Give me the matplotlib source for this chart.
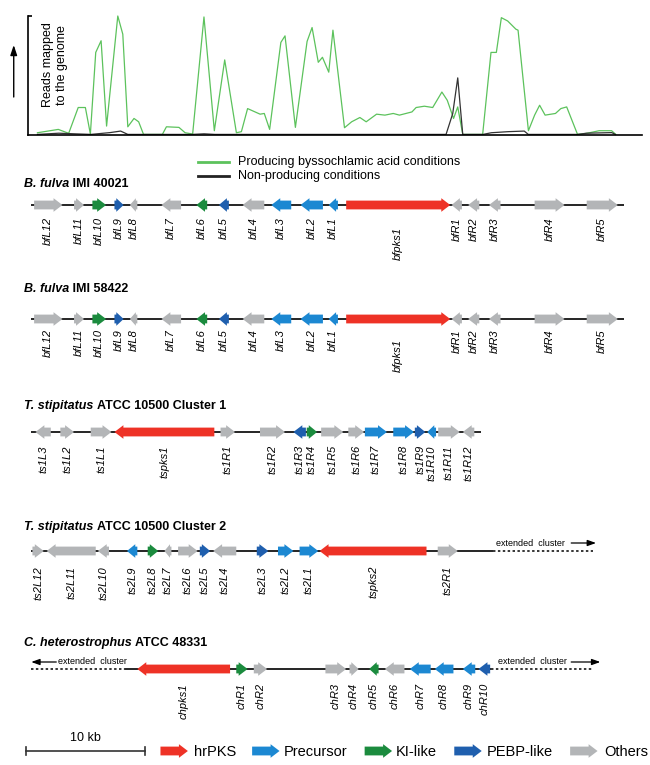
import matplotlib
matplotlib.use('Agg')
import matplotlib.pyplot as plt
from matplotlib.patches import Polygon

plt.rcParams['font.family'] = ['Liberation Sans', 'DejaVu Sans']

# ---- read coverage over the B. fulva cluster (position in kb, reads in % of max)
green_pos = [0.52, 2.27, 3.14, 3.94, 4.54, 4.96, 5.41, 5.86, 6.32, 7.26, 7.68, 8.10,
             8.62, 9.01, 9.42, 11.00, 11.34, 12.39, 12.91, 13.54, 14.49, 15.36, 16.23, 17.21,
             17.63, 18.15, 19.20, 19.55, 20.00, 20.94, 21.29, 22.16, 23.14, 23.56, 24.08, 24.43,
             24.96, 25.31, 26.28, 26.88, 27.57, 28.10, 28.97, 29.67, 30.37, 30.89, 31.94, 32.29,
             32.98, 33.68, 34.45, 34.90, 35.43, 35.78, 36.20, 37.87, 38.57, 39.02, 39.44, 39.97,
             40.66, 40.84, 41.71, 42.23, 42.65, 43.11, 43.98, 44.43, 44.92, 45.83, 46.60, 47.64,
             48.69, 49.04]
green_reads = [1.9, 4.7, 1.4, 23.1, 23.1, 0.8, 69.4, 79.2, 7.5, 100, 84.7, 6.9,
               13.9, 11.1, 0.5, 0.5, 6.9, 6.4, 1.9, 0.8, 99.2, 3.6, 63.1, 1.9,
               2.8, 22.2, 17.5, 18.1, 4.7, 77.8, 83.3, 6.4, 78.6, 90.3, 61.1, 65.3,
               52.8, 88.1, 6.1, 11.1, 14.7, 11.1, 17.5, 16.7, 18.1, 16.7, 19.4, 23.1,
               24.2, 23.1, 36.1, 29.2, 13.9, 23.6, 0.5, 0.5, 69.4, 69.4, 98.6, 95.8,
               88.9, 88.1, 3.6, 16.7, 25.0, 16.7, 18.1, 22.2, 23.6, 0.5, 1.4, 3.6,
               3.6, 0.5]
black_pos = [0.52, 2.3, 5.0, 6.6, 7.5, 8.1, 13.5, 14.5, 15.4, 34.8, 35.36, 35.78,
             36.2, 37.9, 38.6, 40.0, 41.36, 41.7, 45.8, 46.6, 48.7, 49.0]
black_reads = [0.5, 1.5, 0.5, 2.0, 3.3, 0.5, 0.5, 1.0, 0.5, 0.5, 18.0, 48.0,
               0.5, 0.5, 1.9, 2.8, 3.3, 0.5, 0.5, 1.5, 2.0, 0.5]

# ---- gene clusters: name, start kb, end kb, strand, class
bf_names = ['bfL12', 'bfL11', 'bfL10', 'bfL9', 'bfL8', 'bfL7', 'bfL6', 'bfL5', 'bfL4',
            'bfL3', 'bfL2', 'bfL1', 'bfpks1', 'bfR1', 'bfR2', 'bfR3', 'bfR4', 'bfR5']
bf_start = [0.24, 3.59, 5.13, 6.98, 8.27, 10.92, 13.85, 15.74, 17.73,
            20.14, 22.59, 24.95, 26.42, 35.26, 36.65, 38.40, 42.23, 46.60]
bf_end = [2.62, 4.43, 6.28, 7.75, 8.90, 12.57, 14.76, 16.58, 19.55,
          21.81, 24.47, 25.73, 35.15, 36.13, 37.59, 39.37, 44.74, 49.21]
bf_strand = [1, 1, 1, 1, -1, -1, -1, -1, -1, -1, -1, -1, 1, -1, -1, -1, 1, 1]
bf_class = ['oth', 'oth', 'ki', 'pebp', 'oth', 'oth', 'ki', 'pebp', 'oth',
            'pre', 'pre', 'pre', 'pks', 'oth', 'oth', 'oth', 'oth', 'oth']

ts1_names = ['ts1L3', 'ts1L2', 'ts1L1', 'tspks1', 'ts1R1', 'ts1R2', 'ts1R3', 'ts1R4',
             'ts1R5', 'ts1R6', 'ts1R7', 'ts1R8', 'ts1R9', 'ts1R10', 'ts1R11', 'ts1R12']
ts1_start = [0.35, 2.44, 4.99, 6.98, 15.88, 19.19, 21.99, 23.11,
             24.32, 26.60, 27.99, 30.37, 32.18, 33.22, 34.14, 36.20]
ts1_end = [1.64, 3.59, 6.73, 15.36, 17.10, 21.29, 23.04, 23.98,
           26.18, 27.93, 29.84, 32.11, 33.06, 33.96, 35.95, 37.17]
ts1_strand = [-1, 1, 1, -1, 1, 1, -1, 1, 1, 1, 1, 1, 1, -1, 1, -1]
ts1_class = ['oth', 'oth', 'oth', 'pks', 'oth', 'oth', 'pebp', 'ki',
             'oth', 'oth', 'pre', 'pre', 'pebp', 'pre', 'oth', 'oth']

ts2_names = ['ts2L12', 'ts2L11', 'ts2L10', 'ts2L9', 'ts2L8', 'ts2L7', 'ts2L6', 'ts2L5',
             'ts2L4', 'ts2L3', 'ts2L2', 'ts2L1', 'tspks2', 'ts2R1']
ts2_start = [0.10, 1.29, 5.58, 8.03, 9.77, 11.17, 12.32, 14.14,
             15.26, 18.92, 20.70, 22.51, 24.19, 34.10]
ts2_end = [1.05, 5.41, 6.52, 8.90, 10.65, 11.76, 13.96, 15.01,
           17.20, 19.89, 21.99, 24.08, 33.16, 35.78]
ts2_strand = [1, -1, -1, -1, 1, -1, 1, 1, -1, 1, 1, 1, -1, 1]
ts2_class = ['oth', 'oth', 'oth', 'pre', 'ki', 'oth', 'oth', 'pebp',
             'oth', 'pebp', 'pre', 'pre', 'pks', 'oth']

ch_names = ['chpks1', 'chR1', 'chR2', 'chR3', 'chR4', 'chR5', 'chR6', 'chR7',
            'chR8', 'chR9', 'chR10']
ch_start = [8.90, 17.20, 18.67, 24.68, 26.70, 28.35, 29.66, 31.76, 33.85, 36.20, 37.52]
ch_end = [16.68, 18.15, 19.79, 26.42, 27.47, 29.14, 31.31, 33.51, 35.42, 37.25, 38.50]
ch_strand = [-1, 1, 1, 1, 1, -1, -1, -1, -1, -1, -1]
ch_class = ['pks', 'ki', 'oth', 'oth', 'oth', 'ki', 'oth', 'pre', 'pre', 'pre', 'pebp']

# backbone (solid) and extended (dotted) stretches, kb
bf_solid, bf_dotted = [(0, 49.74)], []
ts1_solid, ts1_dotted = [(0, 37.70)], []
ts2_solid, ts2_dotted = [(0, 38.74)], [(38.74, 47.12)]
ch_solid, ch_dotted = [(7.85, 38.53)], [(0, 7.85), (38.53, 47.12)]

legend_classes = ['pks', 'pre', 'ki', 'pebp', 'oth']
legend_labels = ['hrPKS', 'Precursor', 'KI-like', 'PEBP-like', 'Others']
scale_kb = 10

colors = {'pks': '#ee3226', 'pre': '#1c88d2', 'ki': '#1b8b3e',
          'pebp': '#1f5fae', 'oth': '#b3b5b7'}

# ---- figure: one canvas axes, x in kb, y in pixel rows
fig = plt.figure(figsize=(6.5, 7.65), dpi=100)
ax = fig.add_axes([0, 0, 1, 1])
ax.set_xlim(-2.622, 51.91)
ax.set_ylim(765, 0)
ax.axis('off')

HEAD = 0.75    # kb
BODY = 4.4     # half height, px
HALF = 6.8     # half height of the head, px


def gene(x0, x1, strand, y, color):
    head = min(HEAD, 0.8 * (x1 - x0))
    if strand > 0:
        tail, tip, base = x0, x1, x1 - head
    else:
        tail, tip, base = x1, x0, x0 + head
    pts = [(tail, y - BODY), (base, y - BODY), (base, y - HALF), (tip, y),
           (base, y + HALF), (base, y + BODY), (tail, y + BODY)]
    ax.add_patch(Polygon(pts, closed=True, facecolor=color, edgecolor='none', zorder=3))


renderer = fig.canvas.get_renderer()


def title(y, italic_part, rest):
    t = ax.text(-0.594, y, italic_part, fontsize=9, fontweight='bold', style='italic',
                va='baseline', ha='left')
    bb = t.get_window_extent(renderer=renderer)
    xr = ax.transData.inverted().transform((bb.x1, bb.y0))[0]
    ax.text(xr, y, rest, fontsize=9, fontweight='bold', va='baseline', ha='left')


def cluster(names, starts, ends, strands, classes, solid, dotted, y, label_top,
            drop=None):
    for a, b in solid:
        ax.plot([a, b], [y, y], color='black', lw=1.2, zorder=2, solid_capstyle='butt')
    for a, b in dotted:
        ax.plot([a, b], [y, y], color='black', lw=1.1, zorder=2,
                linestyle=(0, (1.6, 1.6)))
    for n, s, e, d, c in zip(names, starts, ends, strands, classes):
        gene(s, e, d, y, colors[c])
        extra = (drop or {}).get(n, 0)
        ax.text((s + e) / 2, label_top + extra, n, rotation=90, ha='center', va='top',
                fontsize=8, style='italic')


def extended(x_text, x_arrow0, x_arrow1, y, left=False):
    ax.text(x_text, y, 'extended  cluster', fontsize=6.5, ha='left', va='center')
    a, b = (x_arrow1, x_arrow0) if left else (x_arrow0, x_arrow1)
    ax.annotate('', xy=(b, y), xytext=(a, y),
                arrowprops=dict(arrowstyle='-|>,head_length=0.5,head_width=0.18',
                                color='black', lw=0.9, shrinkA=0, shrinkB=0))


# ---- coverage panel
x0, x1 = ax.get_xlim()
cov_left, cov_right = -0.245, 51.2
fx = lambda v: (v - x0) / (x1 - x0)
top = fig.add_axes([fx(cov_left), 1 - 135 / 765, fx(cov_right) - fx(cov_left), 119 / 765])
top.patch.set_alpha(0)
top.set_xlim(cov_left, cov_right)
top.set_ylim(0, 100)
top.plot(green_pos, green_reads, color='#5cc25c', lw=0.9, clip_on=False)
top.plot(black_pos, black_reads, color='#333333', lw=0.9, clip_on=False)
for side in ['top', 'right']:
    top.spines[side].set_visible(False)
for side in ['left', 'bottom']:
    top.spines[side].set_linewidth(1.2)
top.set_xticks([])
top.set_yticks([100])
top.set_yticklabels([])
top.tick_params(axis='y', direction='in', length=3, width=1.2)

ax.annotate('', xy=(-1.47, 45), xytext=(-1.47, 97),
            arrowprops=dict(arrowstyle='-|>,head_length=0.6,head_width=0.2',
                            color='black', lw=1.0, shrinkA=0, shrinkB=0))
ax.text(1.99, 65, 'Reads mapped\nto the genome', rotation=90, ha='center', va='center',
        fontsize=9, linespacing=1.25)

ax.plot([13.99, 16.61], [162, 162], color='#5cc25c', lw=2)
ax.text(17.38, 162, 'Producing byssochlamic acid conditions', fontsize=9, va='center')
ax.plot([13.99, 16.61], [176, 176], color='#222222', lw=2)
ax.text(17.38, 176, 'Non-producing conditions', fontsize=9, va='center')

# ---- clusters
title(187, 'B. fulva', ' IMI 40021')
cluster(bf_names, bf_start, bf_end, bf_strand, bf_class, bf_solid, bf_dotted,
        205, 217, {'bfpks1': 10})
title(292, 'B. fulva', ' IMI 58422')
cluster(bf_names, bf_start, bf_end, bf_strand, bf_class, bf_solid, bf_dotted,
        319, 329, {'bfpks1': 10})
title(409, 'T. stipitatus', ' ATCC 10500 Cluster 1')
cluster(ts1_names, ts1_start, ts1_end, ts1_strand, ts1_class, ts1_solid, ts1_dotted,
        432, 445)
title(530, 'T. stipitatus', ' ATCC 10500 Cluster 2')
cluster(ts2_names, ts2_start, ts2_end, ts2_strand, ts2_class, ts2_solid, ts2_dotted,
        551, 566)
extended(38.99, 45.3, 47.38, 543)
title(646, 'C. heterostrophus', ' ATCC 48331')
cluster(ch_names, ch_start, ch_end, ch_strand, ch_class, ch_solid, ch_dotted,
        669, 683)
extended(2.27, 0.0, 2.10, 662, left=True)
extended(39.16, 45.3, 47.74, 662)

# ---- scale bar and colour key
sb0 = -0.455
ax.plot([sb0, sb0 + scale_kb], [751, 751], color='#333333', lw=1.2)
ax.plot([sb0, sb0], [747, 755], color='#333333', lw=1.2)
ax.plot([sb0 + scale_kb, sb0 + scale_kb], [747, 755], color='#333333', lw=1.2)
ax.text(sb0 + scale_kb / 2, 738, f'{scale_kb} kb', fontsize=9, ha='center', va='center')

key_x = [10.84, 18.53, 27.97, 35.49, 45.21]
key_text_x = [13.64, 21.22, 30.59, 38.22, 48.08]
for c, lab, kx, tx in zip(legend_classes, legend_labels, key_x, key_text_x):
    gene(kx, kx + 2.3, 1, 751, colors[c])
    ax.text(tx, 752, lab, fontsize=10.5, va='center', ha='left')

fig.savefig('out.png', dpi=100)
